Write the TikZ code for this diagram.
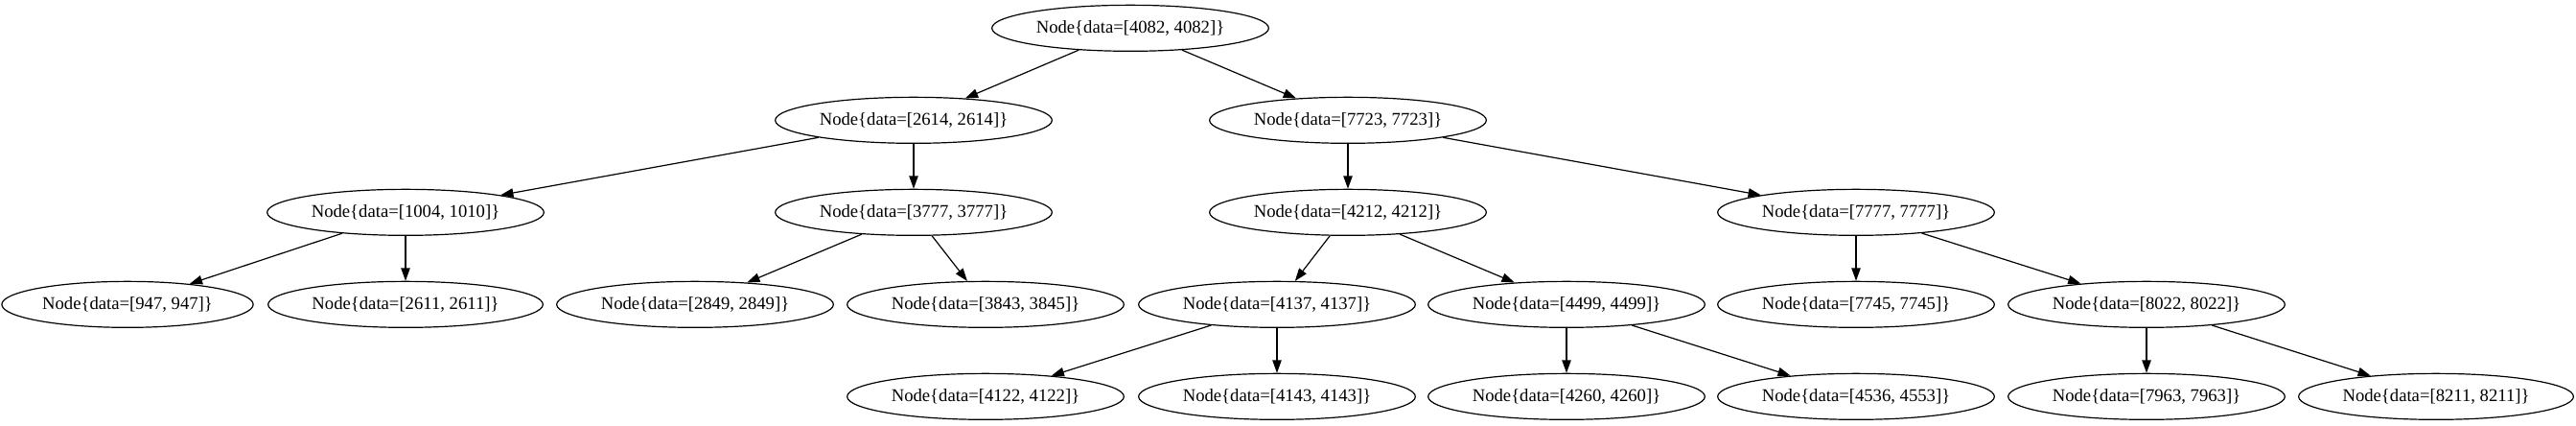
\documentclass[tikz,border=0pt]{standalone}
\usepackage{fontspec}
\setmainfont{Liberation Serif}
\usetikzlibrary{arrows.meta, shapes.geometric}

\begin{document}
\begin{tikzpicture}[x=1pt, y=1pt,
    treenode/.style={draw, ellipse, line width=.9pt, inner xsep=2.9pt, inner ysep=0pt, minimum height=36pt, font=\fontsize{14}{16}\selectfont},
    link/.style={line width=.9pt, -{Triangle[length=10pt, width=7pt]}}]

    \useasboundingbox (0, 0) rectangle (2015.25, -332.25);

    \foreach \n/\x/\y/\a/\b in {n4082/884.25/22/4082/4082,
        n2614/714.75/94/2614/2614, n7723/1054.5/94/7723/7723,
        n1004/317.25/166/1004/1010, n3777/714.75/166/3777/3777, n4212/1054.5/166/4212/4212, n7777/1452/166/7777/7777,
        n947/99.75/238/947/947, n2611/317.25/238/2611/2611, n2849/543.75/238/2849/2849, n3843/771/238/3843/3845,
        n4137/999/238/4137/4137, n4499/1225.5/238/4499/4499, n7745/1452/238/7745/7745, n8022/1679.25/238/8022/8022,
        n4122/771/310/4122/4122, n4143/999/310/4143/4143, n4260/1225.5/310/4260/4260, n4536/1452/310/4536/4553,
        n7963/1679.25/310/7963/7963, n8211/1905.75/310/8211/8211}
        \node[treenode] (\n) at (\x, -\y) {Node\{data=[\a, \b]\}};

    \foreach \A/\B in {n4082/n2614, n4082/n7723, n2614/n1004, n2614/n3777, n7723/n4212, n7723/n7777,
        n1004/n947, n1004/n2611, n3777/n2849, n3777/n3843, n4212/n4137, n4212/n4499, n7777/n7745, n7777/n8022,
        n4137/n4122, n4137/n4143, n4499/n4260, n4499/n4536, n8022/n7963, n8022/n8211}
        \draw[link] (\A) -- (\B);

\end{tikzpicture}
\end{document}
